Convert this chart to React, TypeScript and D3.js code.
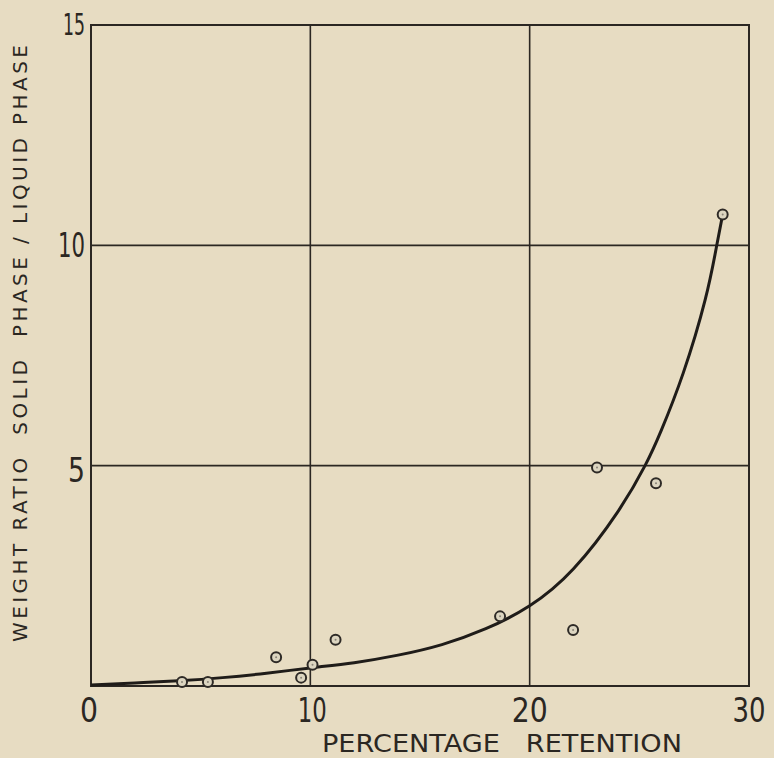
import React, { useEffect } from "react";
import * as d3 from "d3";

const W = 774;
const H = 758;

const xTicks = [0, 10, 20, 30];
const yTicks = [5, 10, 15];
const xGrid = [10, 20];
const yGrid = [5, 10];

const pointX = [4.15, 5.33, 8.44, 9.58, 10.1, 11.15, 18.65, 21.98, 23.07, 25.76, 28.8];
const pointY = [0.09, 0.09, 0.65, 0.19, 0.48, 1.05, 1.58, 1.27, 4.96, 4.6, 10.7];

const curveX = [0, 2, 4, 6, 8, 10, 12, 14, 16, 18, 20, 22, 24, 25.26, 26, 27, 28, 28.53, 28.8];
const curveY = [0.02, 0.07, 0.12, 0.19, 0.29, 0.41, 0.53, 0.7, 0.94, 1.3, 1.82, 2.66, 3.94, 5.0, 5.8, 7.1, 8.76, 10.0, 10.7];

const xLabel = "PERCENTAGE   RETENTION";
const yLabel = "WEIGHT RATIO  SOLID  PHASE / LIQUID PHASE";

const BG = "#e7dcc2";
const INK = "#2b2722";

export default function App() {
  useEffect(() => {
    document.body.style.margin = "0";
    document.body.style.background = BG;
  }, []);

  const x = d3.scaleLinear().domain([0, 30]).range([91, 749]);
  const y = d3.scaleLinear().domain([0, 15]).range([686, 25]);

  const line = d3
    .line<number>()
    .x((_, i) => x(curveX[i]))
    .y((d) => y(d))
    .curve(d3.curveNatural);

  const font = "'DejaVu Sans', sans-serif";

  const xTickW: Record<number, number> = { 0: 18, 10: 29, 20: 36, 30: 33 };
  const xTickDx: Record<number, number> = { 0: -2, 10: 2, 20: 0, 30: 0 };
  const yTickW: Record<number, number> = { 5: 17, 10: 27, 15: 22 };
  const yTickDy: Record<number, number> = { 5: 16, 10: 12, 15: 10 };

  return (
    <svg
      width={W}
      height={H}
      style={{ position: "absolute", left: 0, top: 0, display: "block" }}
    >
      <rect x={0} y={0} width={W} height={H} fill={BG} />
      {xGrid.map((v) => (
        <line key={"xg" + v} x1={x(v)} x2={x(v)} y1={y(0)} y2={y(15)} stroke={INK} strokeWidth={1.6} />
      ))}
      {yGrid.map((v) => (
        <line key={"yg" + v} x1={x(0)} x2={x(30)} y1={y(v)} y2={y(v)} stroke={INK} strokeWidth={1.6} />
      ))}
      <rect
        x={x(0)}
        y={y(15)}
        width={x(30) - x(0)}
        height={y(0) - y(15)}
        fill="none"
        stroke={INK}
        strokeWidth={2}
      />
      <path d={line(curveY) || ""} fill="none" stroke="#1f1c19" strokeWidth={3} />
      {pointX.map((px, i) => (
        <g key={"p" + i}>
          <circle cx={x(px)} cy={y(pointY[i])} r={5} fill="#dcd5c0" stroke="#2e2a26" strokeWidth={2} />
          <circle cx={x(px)} cy={y(pointY[i])} r={1} fill="#8a8478" />
        </g>
      ))}
      {xTicks.map((v) => (
        <text
          key={"xt" + v}
          x={x(v) + xTickDx[v] - xTickW[v] / 2}
          y={722}
          textLength={xTickW[v]}
          lengthAdjust="spacingAndGlyphs"
          fontFamily={font}
          fontSize={33}
          fill={INK}
        >
          {v}
        </text>
      ))}
      {yTicks.map((v) => (
        <text
          key={"yt" + v}
          x={85 - yTickW[v]}
          y={y(v) + yTickDy[v]}
          textLength={yTickW[v]}
          lengthAdjust="spacingAndGlyphs"
          fontFamily={font}
          fontSize={v === 15 ? 30 : 34}
          fill={INK}
        >
          {v}
        </text>
      ))}
      <text
        x={322}
        y={752}
        textLength={360}
        lengthAdjust="spacingAndGlyphs"
        fontFamily={font}
        fontSize={24}
        fill={INK}
        style={{ whiteSpace: "pre" }}
      >
        {xLabel}
      </text>
      <text
        transform={`translate(27, 642) rotate(-90)`}
        x={0}
        y={0}
        textLength={597}
        lengthAdjust="spacing"
        fontFamily={font}
        fontSize={20}
        fill={INK}
        style={{ whiteSpace: "pre" }}
      >
        {yLabel}
      </text>
    </svg>
  );
}
